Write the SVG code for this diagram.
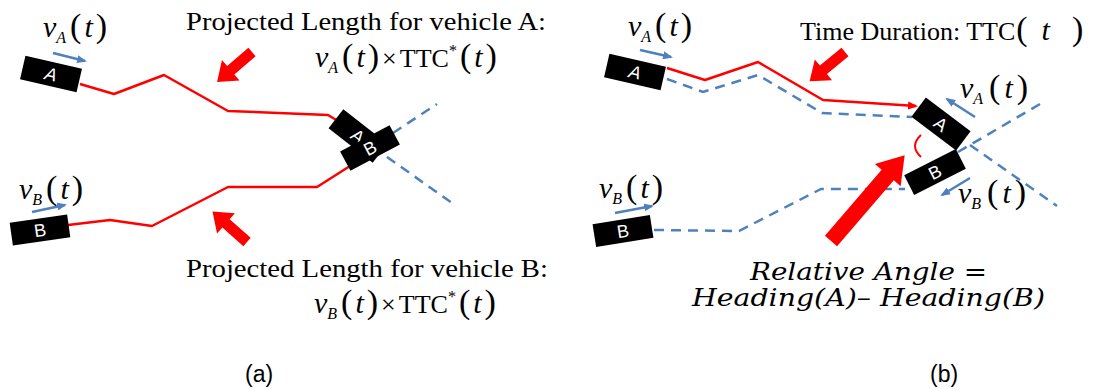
<svg xmlns="http://www.w3.org/2000/svg" width="1094" height="389" viewBox="0 0 1094 389">
<style>
.car{fill:#000}
.cl{fill:#fff;font-family:"Liberation Sans",Arial,sans-serif;font-size:18px;text-anchor:middle}
.red{fill:none;stroke:#ff0000;stroke-width:2.5;stroke-linejoin:round}
.dash{fill:none;stroke:#4f81bd;stroke-width:2.5;stroke-dasharray:10 7}
.barrow{fill:none;stroke:#4f81bd;stroke-width:2.5;marker-end:url(#bh)}
.big{fill:#ff0000}
.t{font-family:"Liberation Serif","Times New Roman",serif;font-size:26px;fill:#000}
.i{font-style:italic}
.v{font-size:30px}
.sub{font-size:16px}
.p{font-size:34px}
.ra{font-family:"DejaVu Serif","Liberation Serif",serif;font-style:italic;font-size:24px;fill:#000}
.lab{font-family:"Liberation Sans",Arial,sans-serif;font-size:23px;fill:#000}
</style>
<defs>
<marker id="bh" viewBox="0 0 10 8" refX="8" refY="4" markerWidth="10" markerHeight="8" markerUnits="userSpaceOnUse" orient="auto"><path d="M0,0 L10,4 L0,8 z" fill="#4f81bd"/></marker>
<marker id="rh" viewBox="0 0 10 8" refX="8" refY="4" markerWidth="10" markerHeight="8" markerUnits="userSpaceOnUse" orient="auto"><path d="M0,0 L10,4 L0,8 z" fill="#ff0000"/></marker>
<polygon id="sa" points="0,-5.5 28,-5.5 28,-13.5 46,0 28,13.5 28,5.5 0,5.5"/>
</defs>

<g id="connectors">
<path class="red" d="M80,84 L114,94 L164,75 L228,111 L328,115 L338,121"/>
<path class="red" d="M68,225 L110,220 L152,226 L228,187 L317,187 L350,166"/>
<path class="dash" d="M393,133 L437,104"/>
<path class="dash" d="M387,157 L452,203"/>
<path class="dash" d="M667,79 L703,92 L758,75 L822,113 L912,117"/>
<path class="red" d="M667,68 L705,80 L758,62 L823,100 L916,106" marker-end="url(#rh)"/>
<path class="dash" d="M654,230 L739,231 L821,189 L905,189"/>
<path class="dash" d="M958,152 L1040,104"/>
<path class="dash" d="M970,145 L1057,206"/>
<path class="barrow" d="M53,53 L85,61"/>
<path class="barrow" d="M32,212 L65,205"/>
<path class="barrow" d="M640,50 L671,57"/>
<path class="barrow" d="M615,213 L652,206"/>
<path class="barrow" d="M975,117 L947,99"/>
<path class="barrow" d="M970,178 L942,195"/>
<path fill="none" stroke="#ff0000" stroke-width="2" d="M921,135 Q909,146 921,157"/>
<use href="#sa" class="big" transform="translate(252,52) rotate(139.4)"/>
<use href="#sa" class="big" transform="translate(247,242) rotate(-138.6)"/>
<use href="#sa" class="big" transform="translate(845,52) rotate(140.4)"/>
<polygon class="big" points="0,-8 87,-8 87,-17 113,0 87,17 87,8 0,8" transform="translate(831,241) rotate(-49.3)"/>
</g>

<g id="carA1" transform="translate(51,74) rotate(13)"><rect class="car" x="-29" y="-12" width="58" height="24"/><text class="cl i" y="6.5">A</text></g>
<g id="carB1" transform="translate(40,230) rotate(-8)"><rect class="car" x="-29" y="-11.5" width="58" height="23"/><text class="cl" y="6.5">B</text></g>
<g id="carA2" transform="translate(358,136) rotate(38)"><rect class="car" x="-28" y="-12" width="56" height="24"/><text class="cl" y="6.5">A</text></g>
<g id="carB2" transform="translate(370,148) rotate(-28)"><rect class="car" x="-28" y="-11" width="56" height="22"/><text class="cl" y="6.5">B</text></g>
<g id="carA3" transform="translate(635,72) rotate(13)"><rect class="car" x="-29" y="-12" width="58" height="24"/><text class="cl i" y="6.5">A</text></g>
<g id="carB3" transform="translate(623,231) rotate(-9)"><rect class="car" x="-29" y="-11.5" width="58" height="23"/><text class="cl" y="6.5">B</text></g>
<g id="carA4" transform="translate(941,124) rotate(37)"><rect class="car" x="-28" y="-12" width="56" height="24"/><text class="cl" y="6.5">A</text></g>
<g id="carB4" transform="translate(935,172) rotate(-27)"><rect class="car" x="-29" y="-11" width="58" height="22"/><text class="cl" y="6.5">B</text></g>

<g id="labels">
<text class="t" x="43" y="37"><tspan class="i v">v</tspan><tspan class="i sub" dy="6">A</tspan><tspan class="p" dy="-6" dx="4">(</tspan><tspan class="i v" dx="3">t</tspan><tspan class="p" dx="3">)</tspan></text>
<text class="t" x="19" y="199"><tspan class="i v">v</tspan><tspan class="i sub" dy="6">B</tspan><tspan class="p" dy="-6" dx="4">(</tspan><tspan class="i v" dx="3">t</tspan><tspan class="p" dx="3">)</tspan></text>
<text class="t" x="628" y="36"><tspan class="i v">v</tspan><tspan class="i sub" dy="6">A</tspan><tspan class="p" dy="-6" dx="4">(</tspan><tspan class="i v" dx="3">t</tspan><tspan class="p" dx="3">)</tspan></text>
<text class="t" x="960" y="98"><tspan class="i v">v</tspan><tspan class="i sub" dy="6">A</tspan><tspan class="p" dy="-6" dx="6">(</tspan><tspan class="i v" dx="4">t</tspan><tspan class="p" dx="4">)</tspan></text>
<text class="t" x="958" y="203"><tspan class="i v">v</tspan><tspan class="i sub" dy="6">B</tspan><tspan class="p" dy="-6" dx="6">(</tspan><tspan class="i v" dx="4">t</tspan><tspan class="p" dx="4">)</tspan></text>
<text class="t" x="599" y="198"><tspan class="i v">v</tspan><tspan class="i sub" dy="6">B</tspan><tspan class="p" dy="-6" dx="4">(</tspan><tspan class="i v" dx="3">t</tspan><tspan class="p" dx="3">)</tspan></text>

<text class="t" x="186" y="30" textLength="360" lengthAdjust="spacingAndGlyphs">Projected Length for vehicle A:</text>
<text class="t" x="315" y="67"><tspan class="i v">v</tspan><tspan class="i sub" dy="6">A</tspan><tspan class="p" dy="-6" dx="4">(</tspan><tspan class="i v" dx="3">t</tspan><tspan class="p" dx="3">)</tspan><tspan dx="3">×</tspan><tspan dx="3">TTC</tspan><tspan class="sub" dy="-11">*</tspan><tspan class="p" dy="11" dx="3">(</tspan><tspan class="i v" dx="3">t</tspan><tspan class="p" dx="3">)</tspan></text>
<text class="t" x="186" y="277" textLength="362" lengthAdjust="spacingAndGlyphs">Projected Length for vehicle B:</text>
<text class="t" x="314" y="313"><tspan class="i v">v</tspan><tspan class="i sub" dy="6">B</tspan><tspan class="p" dy="-6" dx="4">(</tspan><tspan class="i v" dx="3">t</tspan><tspan class="p" dx="3">)</tspan><tspan dx="3">×</tspan><tspan dx="3">TTC</tspan><tspan class="sub" dy="-11">*</tspan><tspan class="p" dy="11" dx="3">(</tspan><tspan class="i v" dx="3">t</tspan><tspan class="p" dx="3">)</tspan></text>

<text class="t" x="800" y="40" font-size="24">Time Duration: TTC<tspan class="p" dx="1">(</tspan><tspan class="i v" dx="14">t</tspan><tspan class="p" dx="22">)</tspan></text>

<text class="ra" x="750" y="280" textLength="237" lengthAdjust="spacingAndGlyphs">Relative Angle  =</text>
<text class="ra" x="692" y="306" textLength="353" lengthAdjust="spacingAndGlyphs">Heading(A)– Heading(B)</text>

<text class="lab" x="245" y="382">(a)</text>
<text class="lab" x="930" y="382">(b)</text>
</g>
</svg>
